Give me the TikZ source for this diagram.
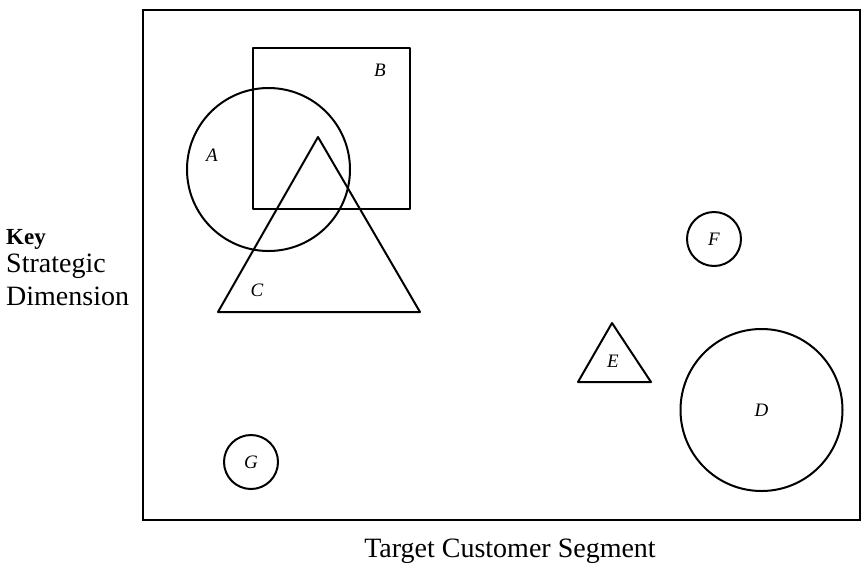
\documentclass[tikz,border=0pt]{standalone}
\usepackage{fontspec}
\setmainfont{Liberation Serif}
\usepackage{xcolor}
\usetikzlibrary{calc}
\definecolor{ink}{HTML}{000000}
\tikzset{
  frame/.style={draw=ink, line width=2.4pt},
  base/.style={draw=ink, line width=2pt, line join=round},
  blob/.style={base, circle, inner sep=0pt},
  lab/.style={text=ink, font=\fontsize{19}{22}\selectfont\itshape},
  keylab/.style={text=ink, anchor=base west, inner sep=0pt, font=\fontsize{23}{27}\selectfont\bfseries},
  axis/.style={text=ink, inner sep=0pt, font=\fontsize{28}{32}\selectfont},
}

\begin{document}
\begin{tikzpicture}[x=1pt,y=-1pt]
  \useasboundingbox (0,0) rectangle (863,566);
  \coordinate (NW) at (143,10);
  \coordinate (SE) at (860,520);
  \coordinate (Ctop) at (318,137);
  \coordinate (Cleft) at (218,312);
  \coordinate (Cright) at (420,312);
  \coordinate (Etop) at (612,323);
  \coordinate (Eleft) at (578,382);
  \coordinate (Eright) at (651,382);

  \draw[frame] (NW) rectangle (SE);
  \draw[base] (253,48) rectangle (410,209);  % B
  \node[blob, minimum size=163pt] (A) at (268.5,169.5) {};
  \draw[base] (Ctop) -- (Cleft) -- (Cright) -- cycle;
  \draw[base] (Etop) -- (Eleft) -- (Eright) -- cycle;
  \node[blob, minimum size=162pt] (D) at (761.5,410) {};
  \node[blob, minimum size=54pt] (F) at (714,239) {};
  \node[blob, minimum size=54pt] (G) at (251,462) {};

  \node[lab] (labA) at (212,155) {A};
  \node[lab] (labB) at (380,70) {B};
  \node[lab] (labC) at (257,290) {C};
  \node[lab] (labD) at (D) {D};
  \node[lab] (labE) at (613,361) {E};
  \node[lab] (labF) at (F) {F};
  \node[lab] (labG) at (G) {G};

  \node[keylab] (key) at (6,244) {Key};
  \node[axis, anchor=base west] (strat) at (6,272) {Strategic};
  \node[axis, anchor=base west] (dim) at (6,305) {Dimension};
  \node[axis, anchor=base] (seg) at (510,557) {Target Customer Segment};
\end{tikzpicture}
\end{document}
